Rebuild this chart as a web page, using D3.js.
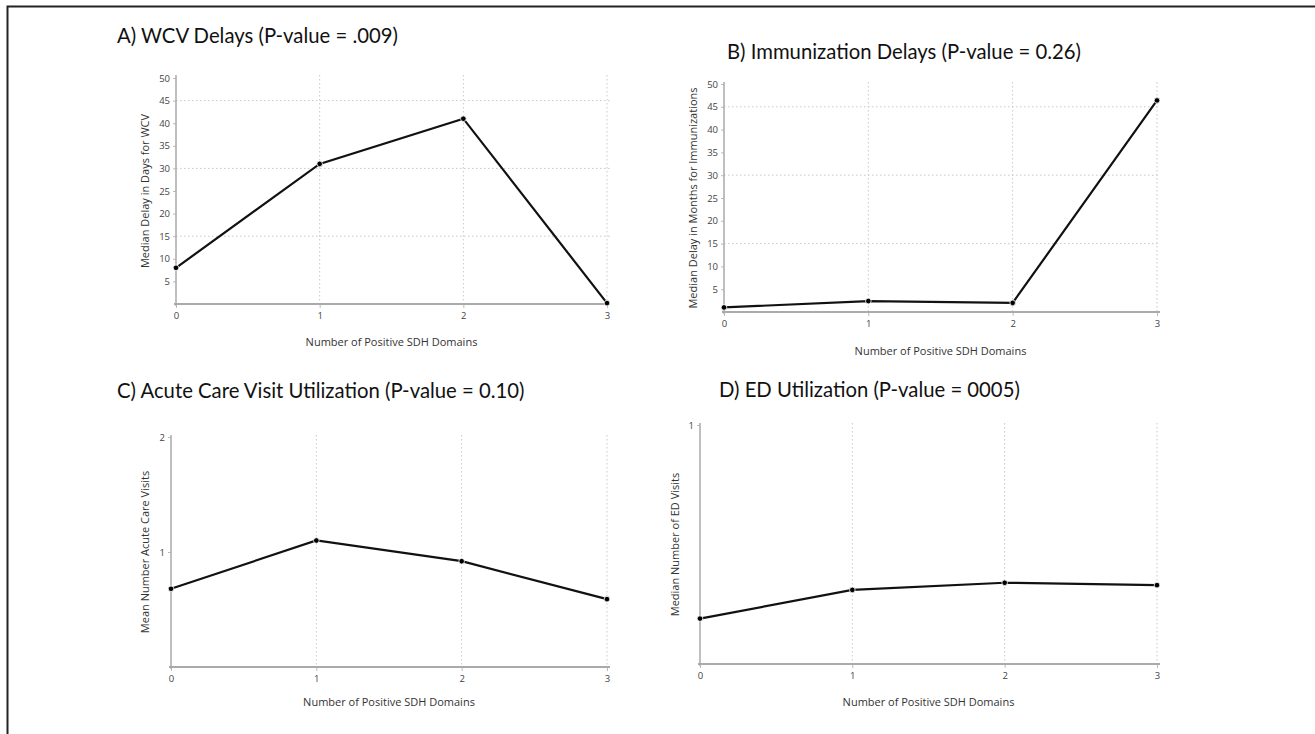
<!DOCTYPE html>
<html>
<head>
<meta charset="utf-8">
<script src="https://cdn.jsdelivr.net/npm/d3@7"></script>
<style>
  body { margin: 0; background: #fff; }
  svg { display: block; }
  .tick text { fill: #444; font-size: 9.5px; font-family: 'Open Sans', sans-serif; }
  .axis-title { fill: #333; font-size: 11px; font-family: 'Open Sans', sans-serif; }
  .panel-title { fill: #111; font-size: 20.3px; font-family: Lato, sans-serif; }
</style>
</head>
<body>
<div id="chart"></div>
<script>
(function(d3) {
    'use strict';

    // Data
    var domains = [0, 1, 2, 3];
    var wcvDelay = [8, 31, 41, 0.2];
    var immDelay = [1, 2.4, 2.0, 46.4];
    var acuteVisits = [0.68, 1.1, 0.92, 0.59];
    var edVisits = [0.19, 0.31, 0.34, 0.33];

    var titles = [
        'A) WCV Delays (P-value = .009)',
        'B) Immunization Delays (P-value = 0.26)',
        'C) Acute Care Visit Utilization (P-value = 0.10)',
        'D) ED Utilization (P-value = 0005)'
    ];
    var yTitles = [
        'Median Delay in Days for WCV',
        'Median Delay in Months for Immunizations',
        'Mean Number Acute Care Visits',
        'Median Number of ED Visits'
    ];
    var xTitle = 'Number of Positive SDH Domains';
    var delayTicks = [5, 10, 15, 20, 25, 30, 35, 40, 45, 50];
    var delayGrid = [15, 30, 45];

    var width = 1315;
    var height = 734;

    var svg = d3.select('#chart')
        .append('svg')
        .attr('width', width)
        .attr('height', height);

    // Outer frame (only top and left edge show in the picture)
    svg.append('path')
        .attr('d', 'M7.5,' + height + 'V6.5H' + width)
        .attr('fill', 'none')
        .attr('stroke', '#222')
        .attr('stroke-width', 2);

    // Panel layout
    var panels = [
        { values: wcvDelay, yMax: 50, ticks: delayTicks, grid: delayGrid,
          x0: 176, x1: 607, yTop: 78, yBase: 304, axisTop: 75,
          titleX: 117, titleY: 43, yTitleX: 149, xTitleY: 346 },
        { values: immDelay, yMax: 50, ticks: delayTicks, grid: delayGrid,
          x0: 724, x1: 1157, yTop: 84, yBase: 312, axisTop: 82,
          titleX: 727, titleY: 59, yTitleX: 697, xTitleY: 355 },
        { values: acuteVisits, yMax: 2, ticks: [1, 2], grid: [],
          x0: 171, x1: 607, yTop: 437, yBase: 667, axisTop: 435,
          titleX: 117, titleY: 398, yTitleX: 149, xTitleY: 706 },
        { values: edVisits, yMax: 1, ticks: [1], grid: [],
          x0: 700, x1: 1157, yTop: 425, yBase: 664, axisTop: 423,
          titleX: 719, titleY: 397, yTitleX: 679, xTitleY: 706 }
    ];

    panels.forEach(function(p, i) {
        var x = d3.scaleLinear().domain([0, 3]).range([p.x0, p.x1]);
        var y = d3.scaleLinear().domain([0, p.yMax]).range([p.yBase, p.yTop]);
        var g = svg.append('g');

        // Title
        g.append('text')
            .attr('class', 'panel-title')
            .attr('x', p.titleX)
            .attr('y', p.titleY)
            .text(titles[i]);

        // Dotted grid lines
        g.selectAll('.vgrid')
            .data(domains.slice(1))
            .enter()
            .append('line')
            .attr('x1', function(d) { return x(d); })
            .attr('x2', function(d) { return x(d); })
            .attr('y1', p.axisTop)
            .attr('y2', p.yBase)
            .attr('stroke', '#c8c8c8')
            .attr('stroke-dasharray', '1.5,2.5');

        g.selectAll('.hgrid')
            .data(p.grid)
            .enter()
            .append('line')
            .attr('x1', p.x0)
            .attr('x2', p.x1 + 3)
            .attr('y1', function(d) { return y(d); })
            .attr('y2', function(d) { return y(d); })
            .attr('stroke', '#c8c8c8')
            .attr('stroke-dasharray', '1.5,2.5');

        // Axes
        var yAxis = g.append('g')
            .attr('transform', 'translate(' + p.x0 + ',0)')
            .call(d3.axisLeft(y).tickValues(p.ticks).tickSize(3).tickPadding(3)
                .tickFormat(d3.format('d')));
        yAxis.select('.domain').remove();
        yAxis.selectAll('.tick line').attr('stroke', '#bbb');

        var xAxis = g.append('g')
            .attr('transform', 'translate(0,' + p.yBase + ')')
            .call(d3.axisBottom(x).tickValues(domains).tickSize(4).tickPadding(4)
                .tickFormat(d3.format('d')));
        xAxis.select('.domain').remove();
        xAxis.selectAll('.tick line').attr('stroke', '#bbb');

        g.append('line')
            .attr('x1', p.x0).attr('x2', p.x0)
            .attr('y1', p.axisTop).attr('y2', p.yBase + 2)
            .attr('stroke', '#aaa')
            .attr('stroke-width', 1.5);
        g.append('line')
            .attr('x1', p.x0 - 2).attr('x2', p.x1 + 3)
            .attr('y1', p.yBase).attr('y2', p.yBase)
            .attr('stroke', '#aaa')
            .attr('stroke-width', 2);

        // Axis titles
        g.append('text')
            .attr('class', 'axis-title')
            .attr('text-anchor', 'middle')
            .attr('x', (p.x0 + p.x1) / 2)
            .attr('y', p.xTitleY)
            .text(xTitle);

        g.append('text')
            .attr('class', 'axis-title')
            .attr('text-anchor', 'middle')
            .attr('transform', 'translate(' + p.yTitleX + ',' +
                ((p.yTop + p.yBase) / 2) + ') rotate(-90)')
            .text(yTitles[i]);

        // Line and points
        var line = d3.line()
            .x(function(d, j) { return x(domains[j]); })
            .y(function(d) { return y(d); });

        g.append('path')
            .datum(p.values)
            .attr('d', line)
            .attr('fill', 'none')
            .attr('stroke', '#111')
            .attr('stroke-width', 2.2);

        g.selectAll('.dot')
            .data(p.values)
            .enter()
            .append('circle')
            .attr('cx', function(d, j) { return x(domains[j]); })
            .attr('cy', function(d) { return y(d); })
            .attr('r', 2.8)
            .attr('fill', '#000')
            .attr('stroke', '#fff')
            .attr('stroke-width', 0.8);
    });

})(window.d3);
</script>
</body>
</html>
